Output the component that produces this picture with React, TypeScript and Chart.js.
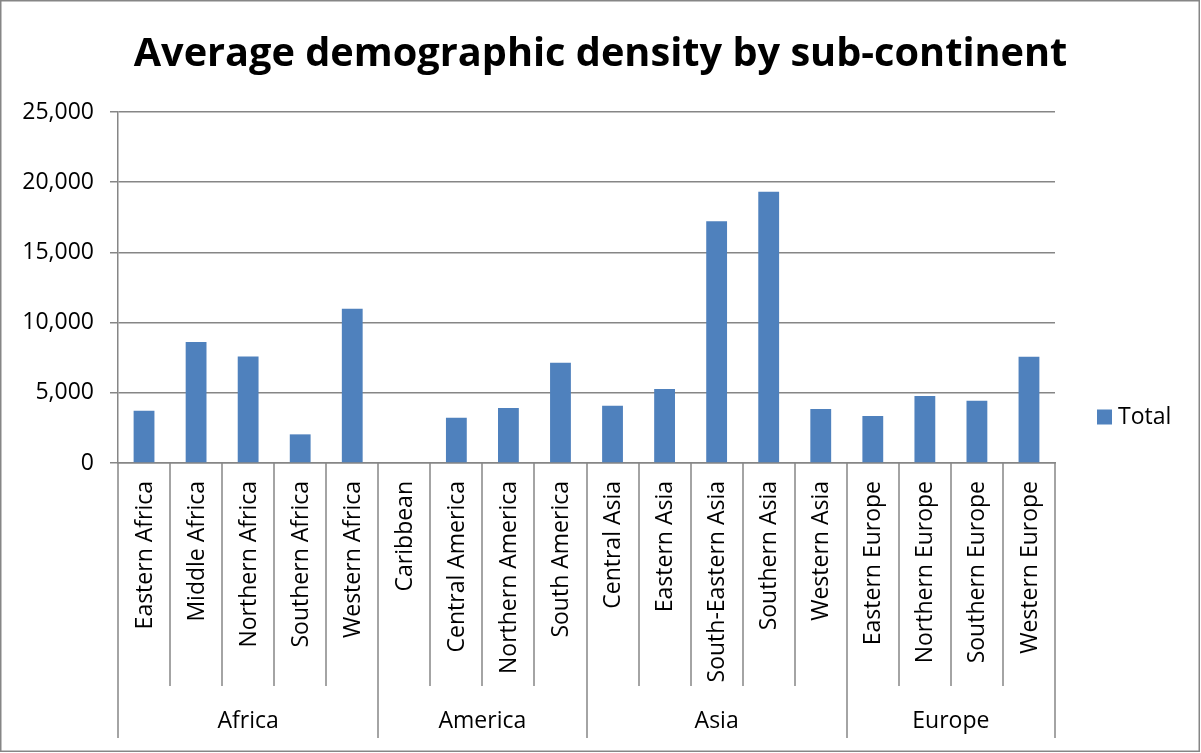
import React, { useEffect, useRef } from "react";
import { Chart, registerables } from "chart.js";

Chart.register(...registerables);

const subRegions = [
  "Eastern Africa", "Middle Africa", "Northern Africa", "Southern Africa", "Western Africa",
  "Caribbean", "Central America", "Northern America", "South America",
  "Central Asia", "Eastern Asia", "South-Eastern Asia", "Southern Asia", "Western Asia",
  "Eastern Europe", "Northern Europe", "Southern Europe", "Western Europe",
];
const totals = [
  3730, 8620, 7590, 2040, 10990,
  0, 3230, 3920, 7140,
  4080, 5270, 17210, 19320, 3850,
  3350, 4770, 4440, 7570,
];
const continents = ["Africa", "America", "Asia", "Europe"];
const continentSizes = [5, 4, 5, 4];
const yTicks = [0, 5000, 10000, 15000, 20000, 25000];

const TITLE = "Average demographic density by sub-continent";
const SERIES = "Total";
const FONT = "'Open Sans', 'Noto Sans', sans-serif";
const GRAY = "#868686";
const BAR = "#4F81BD";

const decorPlugin = {
  id: "decor",
  afterDraw(chart: any) {
    const ctx = chart.ctx as CanvasRenderingContext2D;
    const area = chart.chartArea;
    const xs = chart.scales.x;
    const W = chart.width;
    const H = chart.height;
    ctx.save();

    // outer border
    ctx.strokeStyle = GRAY;
    ctx.lineWidth = 1.5;
    ctx.strokeRect(0.75, 0.75, W - 2.5, H - 2.5);

    // title
    ctx.fillStyle = "#000";
    ctx.textAlign = "center";
    ctx.textBaseline = "alphabetic";
    ctx.font = `bold 40px ${FONT}`;
    const w40 = ctx.measureText(TITLE).width;
    const size = (40 * 935) / w40;
    ctx.font = `bold ${size.toFixed(1)}px ${FONT}`;
    ctx.fillText(TITLE, 600.5, 66);

    // multi-level category axis
    const half = (xs.getPixelForValue(1) - xs.getPixelForValue(0)) / 2;
    const bottom = area.bottom;
    const groupEnds = new Set<number>();
    let acc = 0;
    groupEnds.add(0);
    continentSizes.forEach((n) => {
      acc += n;
      groupEnds.add(acc);
    });
    ctx.strokeStyle = GRAY;
    ctx.lineWidth = 1.5;
    for (let i = 0; i <= subRegions.length; i++) {
      const x = Math.round(
        i < subRegions.length ? xs.getPixelForValue(i) - half : xs.getPixelForValue(i - 1) + half
      );
      const len = groupEnds.has(i) ? 275 : 223;
      ctx.beginPath();
      ctx.moveTo(x, bottom);
      ctx.lineTo(x, bottom + len);
      ctx.stroke();
    }

    ctx.fillStyle = "#000";
    ctx.font = `23px ${FONT}`;
    subRegions.forEach((lab, i) => {
      const cx = xs.getPixelForValue(i);
      ctx.save();
      ctx.translate(cx + 1, bottom + 18);
      ctx.rotate(-Math.PI / 2);
      ctx.textAlign = "right";
      ctx.textBaseline = "middle";
      ctx.fillText(lab, 0, 0);
      ctx.restore();
    });

    let start = 0;
    ctx.textAlign = "center";
    ctx.textBaseline = "middle";
    continents.forEach((g, gi) => {
      const n = continentSizes[gi];
      const x0 = xs.getPixelForValue(start) - half;
      const x1 = xs.getPixelForValue(start + n - 1) + half;
      ctx.fillText(g, (x0 + x1) / 2, bottom + 258);
      start += n;
    });

    // legend
    const lx = area.right + 42;
    const ly = 417;
    ctx.fillStyle = BAR;
    ctx.fillRect(lx, ly - 7.5, 15, 15);
    ctx.fillStyle = "#000";
    ctx.textAlign = "left";
    ctx.textBaseline = "middle";
    ctx.font = `23px ${FONT}`;
    ctx.fillText(SERIES, lx + 21, ly);

    ctx.restore();
  },
};

export default function App() {
  const ref = useRef<HTMLCanvasElement>(null);
  useEffect(() => {
    document.body.style.margin = "0";
    const chart = new Chart(ref.current!, {
      type: "bar",
      data: {
        labels: subRegions,
        datasets: [
          {
            label: SERIES,
            data: totals,
            backgroundColor: BAR,
            borderWidth: 0,
            barPercentage: 0.4,
            categoryPercentage: 1,
          },
        ],
      },
      options: {
        responsive: false,
        animation: false,
        layout: { padding: { top: 112, right: 146, left: 0, bottom: 0 } },
        plugins: { legend: { display: false }, tooltip: { enabled: false }, title: { display: false } },
        scales: {
          x: {
            grid: { display: false },
            border: { display: true, color: GRAY, width: 1.5 },
            ticks: { display: false },
            afterFit: (s: any) => {
              s.height = 290;
            },
          },
          y: {
            min: 0,
            max: 25000,
            afterBuildTicks: (s: any) => {
              s.ticks = yTicks.map((v) => ({ value: v }));
            },
            ticks: {
              color: "#000",
              font: { family: FONT, size: 23 },
              padding: 16,
              callback: (v: any) => Number(v).toLocaleString("en-US"),
            },
            grid: { color: GRAY, lineWidth: 1.5, tickLength: 8 },
            border: { display: true, color: GRAY, width: 1.5 },
            afterFit: (s: any) => {
              s.width = 118;
            },
          },
        },
      },
      plugins: [decorPlugin],
    });
    return () => chart.destroy();
  }, []);
  return (
    <div style={{ position: "fixed", left: 0, top: 0, width: 1201, height: 753, background: "#fff" }}>
      <canvas ref={ref} width={1201} height={753} />
    </div>
  );
}
